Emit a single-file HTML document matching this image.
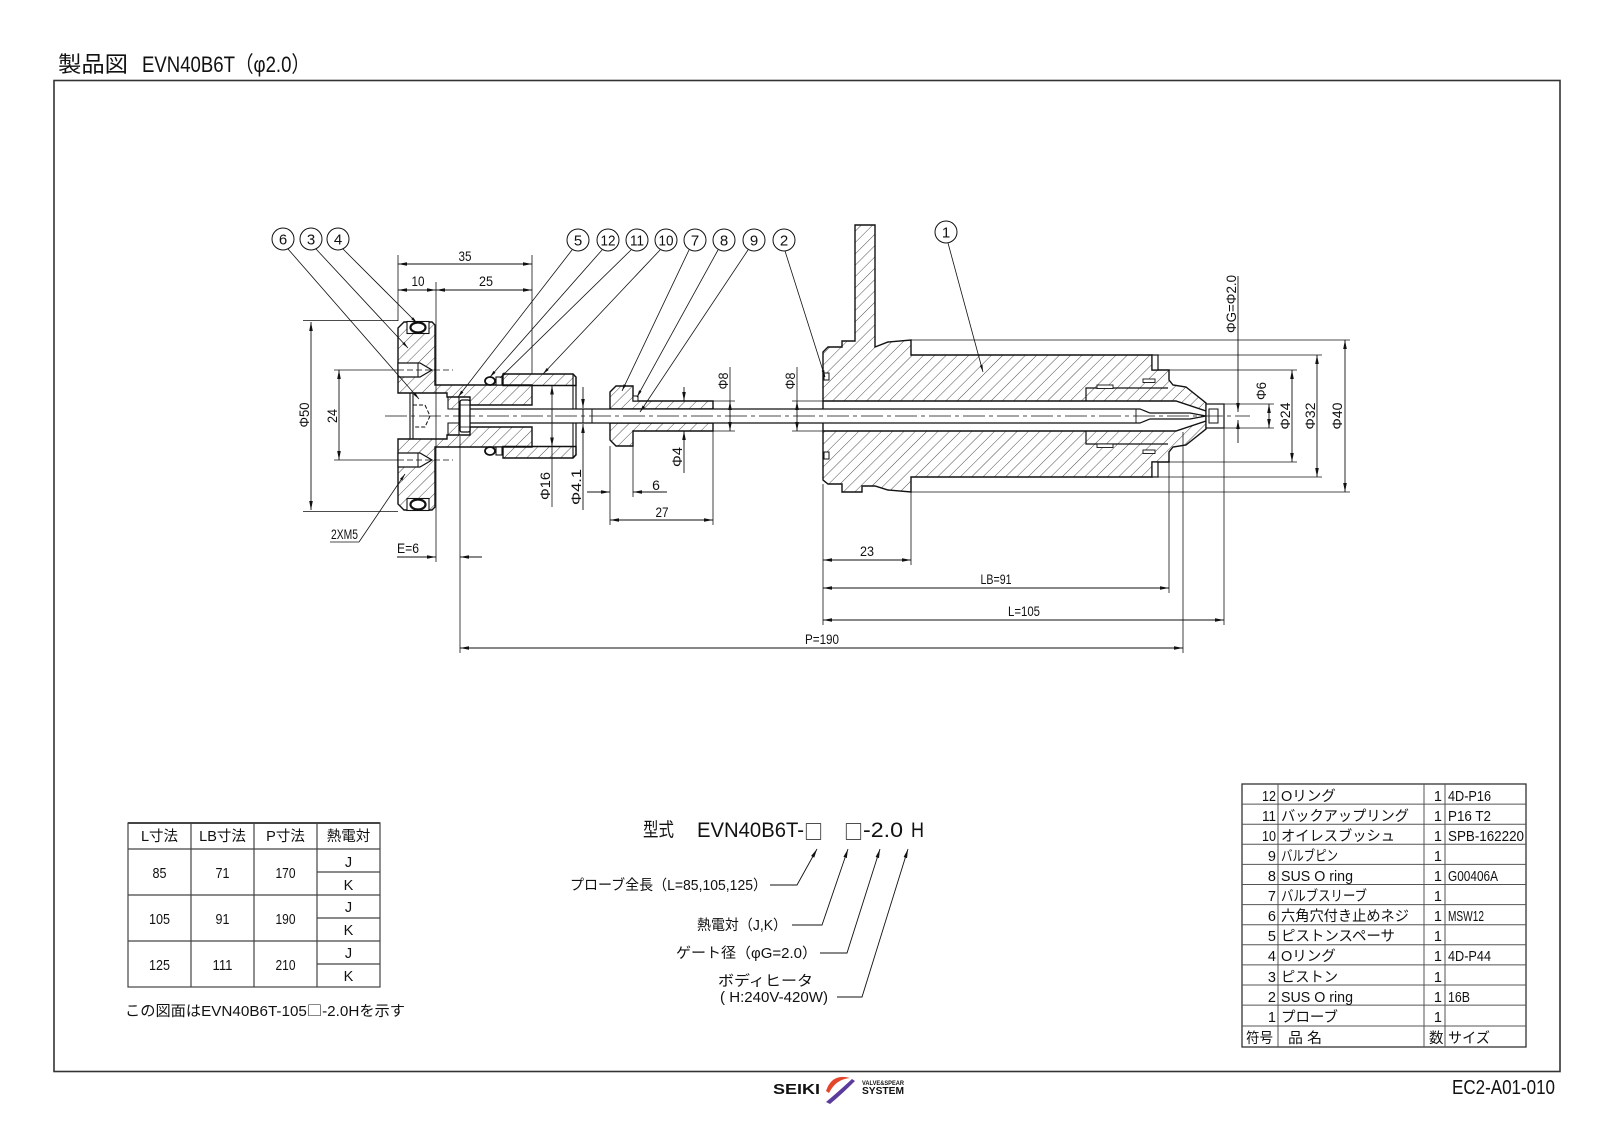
<!DOCTYPE html>
<html><head><meta charset="utf-8">
<style>
html,body{margin:0;padding:0;background:#fff;}
svg{display:block;}
text{font-family:"Liberation Sans","Noto Sans CJK JP",sans-serif;fill:#111;}
.d{font-size:14px;}
.bt{font-size:15px;text-anchor:middle;}
.t{font-size:14.5px;}
.sq{font-family:"Noto Sans CJK JP",sans-serif;}
</style></head><body>
<svg width="1600" height="1132" viewBox="0 0 1600 1132" xmlns="http://www.w3.org/2000/svg">
<defs>
<pattern id="h" patternUnits="userSpaceOnUse" width="8" height="8" patternTransform="rotate(45)"><line x1="0" y1="0" x2="0" y2="8" stroke="#222" stroke-width="0.8"/></pattern>
<marker id="a" viewBox="0 0 10 4" refX="10" refY="2" markerWidth="9" markerHeight="3.6" markerUnits="userSpaceOnUse" orient="auto-start-reverse"><path d="M0,0 L10,2 L0,4 z" fill="#111"/></marker>
<marker id="s" viewBox="0 0 10 4" refX="10" refY="2" markerWidth="7" markerHeight="2.8" markerUnits="userSpaceOnUse" orient="auto-start-reverse"><path d="M0,0 L10,2 L0,4 z" fill="#111"/></marker>
</defs>
<rect width="1600" height="1132" fill="#fff"/>

<!-- Title -->
<text x="58" y="72" font-size="22" textLength="70" lengthAdjust="spacingAndGlyphs">製品図</text>
<text x="142" y="72" font-size="22" textLength="168" lengthAdjust="spacingAndGlyphs">EVN40B6T（φ2.0）</text>

<!-- Frame -->
<rect x="54" y="80.5" width="1506" height="991" fill="none" stroke="#333" stroke-width="1.6"/>

<!-- ===== LEFT ASSEMBLY ===== -->
<path d="M398,328 L404,322 L432,322 L435,325 L435,385 L532,385 L532,405 L470,405 L470,397 L447,397 L447,393 L398,393 Z M398,504 L404,510 L432,510 L435,507 L435,447 L532,447 L532,427 L470,427 L470,435 L447,435 L447,439 L398,439 Z" fill="url(#h)" stroke="#111" stroke-width="1.4"/>
<rect x="407" y="321.5" width="22" height="12" fill="#fff" stroke="#111" stroke-width="1.1"/>
<ellipse cx="418" cy="327.5" rx="7.5" ry="5" fill="#fff" stroke="#111" stroke-width="2.2"/>
<rect x="407" y="498.5" width="22" height="12" fill="#fff" stroke="#111" stroke-width="1.1"/>
<ellipse cx="418" cy="504.5" rx="7.5" ry="5" fill="#fff" stroke="#111" stroke-width="2.2"/>
<path d="M398,363 L420,363 L432,370 L420,377 L398,377 Z" fill="#fff" stroke="#111" stroke-width="1.2"/>
<line x1="418" y1="363" x2="418" y2="377" stroke="#111" stroke-width="1"/>
<path d="M398,453 L420,453 L432,460 L420,467 L398,467 Z" fill="#fff" stroke="#111" stroke-width="1.2"/>
<line x1="418" y1="453" x2="418" y2="467" stroke="#111" stroke-width="1"/>
<line x1="410" y1="393" x2="410" y2="439" stroke="#111" stroke-width="1.1"/>
<line x1="413" y1="393" x2="413" y2="439" stroke="#111" stroke-width="1.1"/>
<path d="M413,405 L425,405 L430,416 L425,427 L413,427" fill="none" stroke="#111" stroke-width="1" stroke-dasharray="4 2"/>
<path d="M448,397 L459,397 L459,409 L448,409 Z M448,423 L459,423 L459,435 L448,435 Z" fill="url(#h)" stroke="#111" stroke-width="1.1"/>
<path d="M503,374 L573,374 L576,377 L576,385.5 L503,385.5 Z" fill="url(#h)" stroke="#111" stroke-width="1.4"/>
<path d="M503,458 L573,458 L576,455 L576,446.5 L503,446.5 Z" fill="url(#h)" stroke="#111" stroke-width="1.4"/>
<line x1="573" y1="374" x2="573" y2="458" stroke="#111" stroke-width="1.1"/>
<line x1="576" y1="377" x2="576" y2="455" stroke="#111" stroke-width="1.2"/>
<ellipse cx="490" cy="381" rx="5" ry="4" fill="#fff" stroke="#111" stroke-width="1.8"/>
<rect x="496" y="377" width="6" height="8" fill="#fff" stroke="#111" stroke-width="1.1"/>
<ellipse cx="490" cy="451" rx="5" ry="4" fill="#fff" stroke="#111" stroke-width="1.8"/>
<rect x="496" y="447" width="6" height="8" fill="#fff" stroke="#111" stroke-width="1.1"/>
<path d="M610,392 L616,386 L633,386 L633,401 L713,401 L713,409 L610,409 Z M610,440 L616,446 L633,446 L633,431 L713,431 L713,423 L610,423 Z" fill="url(#h)" stroke="#111" stroke-width="1.4"/>
<rect x="633" y="396" width="5" height="5" fill="#fff" stroke="#111" stroke-width="1"/>

<!-- ===== PROBE ===== -->
<path fill-rule="evenodd" d="M823,352 L828,347 L842,347 L842,341 L855,341 L855,225 L875,225 L875,347 L888,342 L911,340 L911,355 L1152,355 L1152,370 L1169,370 L1169,380 L1173,385 L1186,387 L1206,403 L1206,429 L1186,445 L1173,447 L1169,452 L1169,462 L1152,462 L1152,477 L911,477 L911,492 L888,490 L875,486 L862,486 L862,492 L842,492 L842,484 L828,484 L823,480 Z M823,401 L1176,401 L1206,411 L1206,421 L1176,431 L823,431 Z" fill="url(#h)" stroke="#111" stroke-width="1.4"/>
<path d="M1086,401 L1086,388 L1168,388 M1086,431 L1086,444 L1168,444" fill="none" stroke="#111" stroke-width="1.2"/>
<rect x="1097" y="385" width="16" height="3.5" fill="#fff" stroke="#111" stroke-width="0.9"/>
<rect x="1097" y="444" width="16" height="3.5" fill="#fff" stroke="#111" stroke-width="0.9"/>
<rect x="1143" y="379" width="12" height="3.5" fill="#fff" stroke="#111" stroke-width="0.9"/>
<rect x="1143" y="450" width="12" height="3.5" fill="#fff" stroke="#111" stroke-width="0.9"/>
<rect x="1152" y="355" width="6" height="15" fill="#fff" stroke="#111" stroke-width="1.2"/>
<rect x="1152" y="462" width="6" height="15" fill="#fff" stroke="#111" stroke-width="1.2"/>
<rect x="824" y="373" width="5" height="7" fill="#fff" stroke="#111" stroke-width="1"/>
<rect x="824" y="452" width="5" height="7" fill="#fff" stroke="#111" stroke-width="1"/>
<rect x="1206" y="404" width="18" height="24" fill="#fff" stroke="#111" stroke-width="1.2"/>
<rect x="1209" y="409" width="9" height="14" fill="none" stroke="#111" stroke-width="1"/>

<!-- valve pin -->
<path d="M459,409 L1140,409 L1150,413 L1190,413 L1206,416 L1190,419 L1150,419 L1140,423 L459,423 Z" fill="#fff" stroke="#111" stroke-width="1.2"/>
<line x1="583" y1="409" x2="583" y2="423" stroke="#111" stroke-width="1"/>
<line x1="592" y1="409" x2="592" y2="423" stroke="#111" stroke-width="1"/>
<line x1="1136" y1="409" x2="1136" y2="423" stroke="#111" stroke-width="0.9"/>
<rect x="460" y="400" width="10" height="32" rx="2" fill="#fff" stroke="#111" stroke-width="1.3"/>
<line x1="460" y1="405" x2="470" y2="405" stroke="#111" stroke-width="0.8"/>
<line x1="460" y1="427" x2="470" y2="427" stroke="#111" stroke-width="0.8"/>

<!-- center lines -->
<line x1="385" y1="416" x2="1250" y2="416" stroke="#111" stroke-width="0.7" stroke-dasharray="22 4 4 4"/>
<line x1="398" y1="370" x2="453" y2="370" stroke="#111" stroke-width="0.7" stroke-dasharray="6 3"/>
<line x1="398" y1="460" x2="453" y2="460" stroke="#111" stroke-width="0.7" stroke-dasharray="6 3"/>

<!-- ===== EXTENSION LINES ===== -->
<g stroke="#111" stroke-width="0.8" fill="none">
<line x1="398" y1="255" x2="398" y2="321"/>
<line x1="436" y1="282" x2="436" y2="562"/>
<line x1="532" y1="255" x2="532" y2="374"/>
<line x1="460" y1="436" x2="460" y2="653"/>
<line x1="303" y1="320.5" x2="398" y2="320.5"/>
<line x1="303" y1="511.5" x2="398" y2="511.5"/>
<line x1="334" y1="370" x2="398" y2="370"/>
<line x1="334" y1="460" x2="398" y2="460"/>
<line x1="552" y1="446.5" x2="552" y2="507"/>
<line x1="610" y1="446" x2="610" y2="525"/>
<line x1="633" y1="446" x2="633" y2="497"/>
<line x1="713" y1="431" x2="713" y2="525"/>
<line x1="713" y1="401" x2="735" y2="401"/>
<line x1="713" y1="431" x2="735" y2="431"/>
<line x1="792" y1="401" x2="823" y2="401"/>
<line x1="792" y1="431" x2="823" y2="431"/>
<line x1="823" y1="484" x2="823" y2="625"/>
<line x1="911" y1="492" x2="911" y2="565"/>
<line x1="1169" y1="462" x2="1169" y2="593"/>
<line x1="1183" y1="432" x2="1183" y2="653"/>
<line x1="1224" y1="428" x2="1224" y2="625"/>
<line x1="911" y1="340" x2="1350" y2="340"/>
<line x1="911" y1="492" x2="1350" y2="492"/>
<line x1="1158" y1="355" x2="1322" y2="355"/>
<line x1="1158" y1="477" x2="1322" y2="477"/>
<line x1="1169" y1="370" x2="1297" y2="370"/>
<line x1="1169" y1="462" x2="1297" y2="462"/>
<line x1="1224" y1="404" x2="1274" y2="404"/>
<line x1="1224" y1="428" x2="1274" y2="428"/>
<line x1="730" y1="367" x2="730" y2="401"/>
<line x1="797" y1="367" x2="797" y2="401"/>
<line x1="330" y1="542" x2="359" y2="542"/>
</g>

<!-- ===== DIMENSION LINES ===== -->
<g stroke="#111" stroke-width="0.9" fill="none">
<line x1="398" y1="264" x2="532" y2="264" marker-start="url(#a)" marker-end="url(#a)"/>
<line x1="398" y1="290" x2="436" y2="290" marker-start="url(#a)" marker-end="url(#a)"/>
<line x1="436" y1="290" x2="532" y2="290" marker-start="url(#a)" marker-end="url(#a)"/>
<line x1="311" y1="322" x2="311" y2="510" marker-start="url(#a)" marker-end="url(#a)"/>
<line x1="339" y1="370" x2="339" y2="460" marker-start="url(#a)" marker-end="url(#a)"/>
<line x1="552" y1="385.5" x2="552" y2="446.5" marker-start="url(#a)" marker-end="url(#a)"/>
<line x1="610" y1="520" x2="713" y2="520" marker-start="url(#a)" marker-end="url(#a)"/>
<line x1="730" y1="401" x2="730" y2="431" marker-start="url(#a)" marker-end="url(#a)"/>
<line x1="797" y1="401" x2="797" y2="431" marker-start="url(#a)" marker-end="url(#a)"/>
<line x1="823" y1="560" x2="911" y2="560" marker-start="url(#a)" marker-end="url(#a)"/>
<line x1="823" y1="588" x2="1169" y2="588" marker-start="url(#a)" marker-end="url(#a)"/>
<line x1="823" y1="620" x2="1224" y2="620" marker-start="url(#a)" marker-end="url(#a)"/>
<line x1="460" y1="648" x2="1183" y2="648" marker-start="url(#a)" marker-end="url(#a)"/>
<line x1="1269" y1="404" x2="1269" y2="428" marker-start="url(#a)" marker-end="url(#a)"/>
<line x1="1292" y1="370" x2="1292" y2="462" marker-start="url(#a)" marker-end="url(#a)"/>
<line x1="1317" y1="355" x2="1317" y2="477" marker-start="url(#a)" marker-end="url(#a)"/>
<line x1="1345" y1="340" x2="1345" y2="492" marker-start="url(#a)" marker-end="url(#a)"/>
<line x1="397" y1="557" x2="436" y2="557" marker-end="url(#a)"/>
<line x1="482" y1="557" x2="460" y2="557" marker-end="url(#a)"/>
<line x1="583" y1="387" x2="583" y2="408" marker-end="url(#a)"/>
<line x1="583" y1="510" x2="583" y2="424" marker-end="url(#a)"/>
<line x1="587" y1="492" x2="610" y2="492" marker-end="url(#a)"/>
<line x1="667" y1="492" x2="633" y2="492" marker-end="url(#a)"/>
<line x1="684" y1="387" x2="684" y2="401" marker-end="url(#a)"/>
<line x1="684" y1="473" x2="684" y2="431" marker-end="url(#a)"/>
<line x1="1238" y1="276" x2="1238" y2="412" marker-end="url(#a)"/>
<line x1="1238" y1="443" x2="1238" y2="420" marker-end="url(#a)"/>
</g>

<!-- ===== DIMENSION TEXT ===== -->
<g class="d" text-anchor="middle">
<text x="465" y="261" textLength="13" lengthAdjust="spacingAndGlyphs">35</text>
<text x="418" y="286" textLength="13" lengthAdjust="spacingAndGlyphs">10</text>
<text x="486" y="286" textLength="14" lengthAdjust="spacingAndGlyphs">25</text>
<text transform="translate(309,415) rotate(-90)" textLength="25" lengthAdjust="spacingAndGlyphs">Φ50</text>
<text transform="translate(337,416) rotate(-90)" textLength="14" lengthAdjust="spacingAndGlyphs">24</text>
<text transform="translate(550,486) rotate(-90)" textLength="28" lengthAdjust="spacingAndGlyphs">Φ16</text>
<text transform="translate(581,487) rotate(-90)" textLength="36" lengthAdjust="spacingAndGlyphs">Φ4.1</text>
<text x="656" y="490">6</text>
<text x="662" y="517" textLength="13" lengthAdjust="spacingAndGlyphs">27</text>
<text transform="translate(682,457) rotate(-90)" textLength="20" lengthAdjust="spacingAndGlyphs">Φ4</text>
<text transform="translate(728,381) rotate(-90)" textLength="17" lengthAdjust="spacingAndGlyphs">Φ8</text>
<text transform="translate(795,381) rotate(-90)" textLength="17" lengthAdjust="spacingAndGlyphs">Φ8</text>
<text x="867" y="556" textLength="14" lengthAdjust="spacingAndGlyphs">23</text>
<text x="996" y="584" textLength="31" lengthAdjust="spacingAndGlyphs">LB=91</text>
<text x="1024" y="616" textLength="32" lengthAdjust="spacingAndGlyphs">L=105</text>
<text x="822" y="644" textLength="34" lengthAdjust="spacingAndGlyphs">P=190</text>
<text transform="translate(1236,304) rotate(-90)" textLength="58" lengthAdjust="spacingAndGlyphs">ΦG=Φ2.0</text>
<text transform="translate(1266,391) rotate(-90)" textLength="18" lengthAdjust="spacingAndGlyphs">Φ6</text>
<text transform="translate(1290,416) rotate(-90)" textLength="27" lengthAdjust="spacingAndGlyphs">Φ24</text>
<text transform="translate(1315,416) rotate(-90)" textLength="27" lengthAdjust="spacingAndGlyphs">Φ32</text>
<text transform="translate(1342,416) rotate(-90)" textLength="27" lengthAdjust="spacingAndGlyphs">Φ40</text>
</g>
<text class="d" x="397" y="553" textLength="22" lengthAdjust="spacingAndGlyphs">E=6</text>
<text class="d" x="331" y="539" textLength="27" lengthAdjust="spacingAndGlyphs">2XM5</text>

<!-- ===== LEADERS ===== -->
<g stroke="#111" stroke-width="0.8" fill="none">
<line x1="288" y1="249" x2="419" y2="399" marker-end="url(#s)"/>
<line x1="316" y1="249" x2="408" y2="348" marker-end="url(#s)"/>
<line x1="343" y1="249" x2="417" y2="323" marker-end="url(#s)"/>
<line x1="572" y1="250" x2="458" y2="397" marker-end="url(#s)"/>
<line x1="602" y1="250" x2="490" y2="377" marker-end="url(#s)"/>
<line x1="631" y1="250" x2="500" y2="378" marker-end="url(#s)"/>
<line x1="660" y1="250" x2="543" y2="374" marker-end="url(#s)"/>
<line x1="689" y1="250" x2="622" y2="391" marker-end="url(#s)"/>
<line x1="718" y1="250" x2="637" y2="397" marker-end="url(#s)"/>
<line x1="748" y1="250" x2="640" y2="412" marker-end="url(#s)"/>
<line x1="785" y1="251" x2="825" y2="377" marker-end="url(#s)"/>
<line x1="948" y1="243" x2="983" y2="372" marker-end="url(#s)"/>
<line x1="359" y1="542" x2="405" y2="474" marker-end="url(#s)"/>
</g>

<!-- ===== BALLOONS ===== -->
<g fill="#fff" stroke="#111" stroke-width="1">
<circle cx="283" cy="239" r="11"/><circle cx="311" cy="239" r="11"/><circle cx="338" cy="239" r="11"/>
<circle cx="578" cy="240" r="11"/><circle cx="608" cy="240" r="11"/><circle cx="637" cy="240" r="11"/>
<circle cx="666" cy="240" r="11"/><circle cx="695" cy="240" r="11"/><circle cx="724" cy="240" r="11"/>
<circle cx="754" cy="240" r="11"/><circle cx="784" cy="240" r="11"/><circle cx="946" cy="232" r="11"/>
</g>
<g class="bt">
<text x="283" y="244.5">6</text><text x="311" y="244.5">3</text><text x="338" y="244.5">4</text>
<text x="578" y="245.5">5</text>
<text x="608" y="245.5" textLength="15" lengthAdjust="spacingAndGlyphs">12</text>
<text x="637" y="245.5" textLength="14" lengthAdjust="spacingAndGlyphs">11</text>
<text x="666" y="245.5" textLength="15" lengthAdjust="spacingAndGlyphs">10</text>
<text x="695" y="245.5">7</text><text x="724" y="245.5">8</text><text x="754" y="245.5">9</text>
<text x="784" y="245.5">2</text><text x="946" y="237.5">1</text>
</g>

<!-- ===== BOTTOM-LEFT TABLE ===== -->
<g stroke="#444" stroke-width="1.2" fill="none">
<rect x="128" y="823" width="252" height="164"/>
<line x1="128" y1="823" x2="380" y2="823" stroke-width="2"/>
<line x1="191" y1="823" x2="191" y2="987"/>
<line x1="254" y1="823" x2="254" y2="987"/>
<line x1="317" y1="823" x2="317" y2="987"/>
<line x1="128" y1="849" x2="380" y2="849"/>
<line x1="128" y1="895" x2="380" y2="895"/>
<line x1="128" y1="941" x2="380" y2="941"/>
<line x1="317" y1="872" x2="380" y2="872"/>
<line x1="317" y1="918" x2="380" y2="918"/>
<line x1="317" y1="964" x2="380" y2="964"/>
</g>
<g class="t" text-anchor="middle">
<text x="159.5" y="841">L寸法</text>
<text x="222.5" y="841">LB寸法</text>
<text x="285.5" y="841">P寸法</text>
<text x="348.5" y="841">熱電対</text>
<text x="159.5" y="878" textLength="14" lengthAdjust="spacingAndGlyphs">85</text>
<text x="222.5" y="878" textLength="14" lengthAdjust="spacingAndGlyphs">71</text>
<text x="285.5" y="878" textLength="20" lengthAdjust="spacingAndGlyphs">170</text>
<text x="159.5" y="924" textLength="21" lengthAdjust="spacingAndGlyphs">105</text>
<text x="222.5" y="924" textLength="14" lengthAdjust="spacingAndGlyphs">91</text>
<text x="285.5" y="924" textLength="20" lengthAdjust="spacingAndGlyphs">190</text>
<text x="159.5" y="970" textLength="21" lengthAdjust="spacingAndGlyphs">125</text>
<text x="222.5" y="970" textLength="20" lengthAdjust="spacingAndGlyphs">111</text>
<text x="285.5" y="970" textLength="20" lengthAdjust="spacingAndGlyphs">210</text>
<text x="348.5" y="867">J</text><text x="348.5" y="890">K</text>
<text x="348.5" y="912">J</text><text x="348.5" y="935">K</text>
<text x="348.5" y="958">J</text><text x="348.5" y="981">K</text>
</g>
<text class="t" x="125" y="1016" textLength="280" lengthAdjust="spacingAndGlyphs">この図面はEVN40B6T-105<tspan class="sq">□</tspan>-2.0Hを示す</text>

<!-- ===== MODEL CODE ===== -->
<text x="643" y="836" font-size="19" textLength="31" lengthAdjust="spacingAndGlyphs">型式</text>
<text x="697" y="837" font-size="21" textLength="107" lengthAdjust="spacingAndGlyphs">EVN40B6T-</text>
<text class="sq" x="804" y="839" font-size="20" textLength="19" lengthAdjust="spacingAndGlyphs">□</text>
<text class="sq" x="844" y="839" font-size="20" textLength="19" lengthAdjust="spacingAndGlyphs">□</text>
<text x="863" y="837" font-size="21" textLength="40" lengthAdjust="spacingAndGlyphs">-2.0</text>
<text x="911" y="837" font-size="21" textLength="13" lengthAdjust="spacingAndGlyphs">H</text>
<g class="t">
<text x="570" y="890" textLength="197" lengthAdjust="spacingAndGlyphs">プローブ全長（L=85,105,125）</text>
<text x="697" y="930" textLength="90" lengthAdjust="spacingAndGlyphs">熱電対（J,K）</text>
<text x="676" y="958" textLength="141" lengthAdjust="spacingAndGlyphs">ゲート径（φG=2.0）</text>
<text x="718" y="986" textLength="95" lengthAdjust="spacingAndGlyphs">ボディヒータ</text>
<text x="720" y="1002" textLength="108" lengthAdjust="spacingAndGlyphs">( H:240V-420W)</text>
</g>
<g stroke="#111" stroke-width="0.9" fill="none">
<polyline points="770,885 797,885 817,849" marker-end="url(#a)"/>
<polyline points="792,925 822,925 848,849" marker-end="url(#a)"/>
<polyline points="820,953 847,953 880,849" marker-end="url(#a)"/>
<polyline points="837,997 862,997 908,849" marker-end="url(#a)"/>
</g>

<!-- ===== PARTS TABLE ===== -->
<g stroke="#555" stroke-width="1" fill="none">
<rect x="1242" y="784" width="284" height="263" stroke="#333" stroke-width="1.3"/>
<line x1="1278" y1="784" x2="1278" y2="1047"/>
<line x1="1424" y1="784" x2="1424" y2="1047"/>
<line x1="1445" y1="784" x2="1445" y2="1047"/>
<line x1="1242" y1="804.1" x2="1526" y2="804.1"/>
<line x1="1242" y1="824.2" x2="1526" y2="824.2"/>
<line x1="1242" y1="844.3" x2="1526" y2="844.3"/>
<line x1="1242" y1="864.4" x2="1526" y2="864.4"/>
<line x1="1242" y1="884.5" x2="1526" y2="884.5"/>
<line x1="1242" y1="904.6" x2="1526" y2="904.6"/>
<line x1="1242" y1="924.7" x2="1526" y2="924.7"/>
<line x1="1242" y1="944.8" x2="1526" y2="944.8"/>
<line x1="1242" y1="964.9" x2="1526" y2="964.9"/>
<line x1="1242" y1="985" x2="1526" y2="985"/>
<line x1="1242" y1="1005.1" x2="1526" y2="1005.1"/>
<line x1="1242" y1="1026" x2="1526" y2="1026"/>
</g>
<g class="t">
<g text-anchor="end">
<text x="1276" y="801" textLength="14" lengthAdjust="spacingAndGlyphs">12</text>
<text x="1276" y="821" textLength="14" lengthAdjust="spacingAndGlyphs">11</text>
<text x="1276" y="841" textLength="14" lengthAdjust="spacingAndGlyphs">10</text>
<text x="1276" y="861">9</text>
<text x="1276" y="881">8</text>
<text x="1276" y="901">7</text>
<text x="1276" y="921">6</text>
<text x="1276" y="941">5</text>
<text x="1276" y="961">4</text>
<text x="1276" y="982">3</text>
<text x="1276" y="1002">2</text>
<text x="1276" y="1022">1</text>
<text x="1442" y="801">1</text><text x="1442" y="821">1</text><text x="1442" y="841">1</text>
<text x="1442" y="861">1</text><text x="1442" y="881">1</text><text x="1442" y="901">1</text>
<text x="1442" y="921">1</text><text x="1442" y="941">1</text><text x="1442" y="961">1</text>
<text x="1442" y="982">1</text><text x="1442" y="1002">1</text><text x="1442" y="1022">1</text>
</g>
<text x="1281" y="801">Oリング</text>
<text x="1281" y="821" textLength="128" lengthAdjust="spacingAndGlyphs">バックアップリング</text>
<text x="1281" y="841" textLength="114" lengthAdjust="spacingAndGlyphs">オイレスブッシュ</text>
<text x="1281" y="861" textLength="57" lengthAdjust="spacingAndGlyphs">バルブピン</text>
<text x="1281" y="881" textLength="72" lengthAdjust="spacingAndGlyphs">SUS O ring</text>
<text x="1281" y="901" textLength="86" lengthAdjust="spacingAndGlyphs">バルブスリーブ</text>
<text x="1281" y="921" textLength="128" lengthAdjust="spacingAndGlyphs">六角穴付き止めネジ</text>
<text x="1281" y="941" textLength="114" lengthAdjust="spacingAndGlyphs">ピストンスペーサ</text>
<text x="1281" y="961">Oリング</text>
<text x="1281" y="982" textLength="57" lengthAdjust="spacingAndGlyphs">ピストン</text>
<text x="1281" y="1002" textLength="72" lengthAdjust="spacingAndGlyphs">SUS O ring</text>
<text x="1281" y="1022" textLength="57" lengthAdjust="spacingAndGlyphs">プローブ</text>
<text x="1448" y="801" textLength="43" lengthAdjust="spacingAndGlyphs">4D-P16</text>
<text x="1448" y="821" textLength="43" lengthAdjust="spacingAndGlyphs">P16 T2</text>
<text x="1448" y="841" textLength="76" lengthAdjust="spacingAndGlyphs">SPB-162220</text>
<text x="1448" y="881" textLength="50" lengthAdjust="spacingAndGlyphs">G00406A</text>
<text x="1448" y="921" textLength="36" lengthAdjust="spacingAndGlyphs">MSW12</text>
<text x="1448" y="961" textLength="43" lengthAdjust="spacingAndGlyphs">4D-P44</text>
<text x="1448" y="1002" textLength="22" lengthAdjust="spacingAndGlyphs">16B</text>
<text x="1246" y="1043" textLength="27" lengthAdjust="spacingAndGlyphs">符号</text>
<text x="1288" y="1043" textLength="34" lengthAdjust="spacingAndGlyphs">品 名</text>
<text x="1429" y="1043">数</text>
<text x="1448" y="1043" textLength="42" lengthAdjust="spacingAndGlyphs">サイズ</text>
</g>

<!-- ===== FOOTER ===== -->
<text x="773" y="1094" font-size="15" font-weight="bold" textLength="47" lengthAdjust="spacingAndGlyphs" fill="#222">SEIKI</text>
<path d="M826,1091 Q832,1073 850,1078 Q836,1079 829,1093 Z" fill="#e4462c"/>
<path d="M826,1102 Q838,1092 852,1079 L855,1081 Q842,1094 830,1104 Z" fill="#5b3b9c"/>
<text x="862" y="1085" font-size="6.5" font-weight="bold" textLength="42" lengthAdjust="spacingAndGlyphs" fill="#333">VALVE&amp;SPEAR</text>
<text x="862" y="1094" font-size="10" font-weight="bold" textLength="42" lengthAdjust="spacingAndGlyphs" fill="#333">SYSTEM</text>
<text x="1452" y="1094" font-size="20" textLength="103" lengthAdjust="spacingAndGlyphs">EC2-A01-010</text>
</svg>
</body></html>
